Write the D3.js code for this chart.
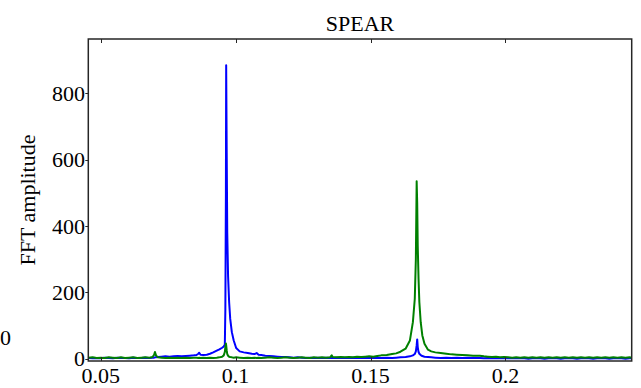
<!DOCTYPE html>
<html><head><meta charset="utf-8">
<script src="https://cdnjs.cloudflare.com/ajax/libs/d3/7.8.5/d3.min.js"></script>
<style>html,body{margin:0;padding:0;background:#fff;}svg{display:block;}</style>
</head><body>
<script>
const titleText = "SPEAR";
const yLabel = "FFT amplitude";
const xTicks = [0.05, 0.1, 0.15, 0.2];
const xTickLabels = ["0.05", "0.1", "0.15", "0.2"];
const yTicks = [0, 200, 400, 600, 800];
const yTickLabels = ["0", "200", "400", "600", "800"];
const xDomain = [0.0454, 0.2468];
const yDomain = [-7, 964];
const freq = [0.0454,0.0470,0.0485,0.0500,0.0515,0.0530,0.0545,0.0560,0.0575,0.0590,0.0605,0.0620,0.0635,0.0650,0.0665,0.0680,0.0692,0.0698,0.0701,0.0705,0.0712,0.0725,0.0740,0.0755,0.0770,0.0785,0.0800,0.0815,0.0830,0.0845,0.0855,0.0862,0.0865,0.0870,0.0880,0.0893,0.0905,0.0917,0.0930,0.0940,0.0950,0.0956,0.0960,0.0962,0.0964,0.0965,0.0967,0.0969,0.0972,0.0976,0.0980,0.0986,0.0993,0.1002,0.1015,0.1030,0.1045,0.1060,0.1070,0.1078,0.1085,0.1095,0.1110,0.1125,0.1140,0.1155,0.1170,0.1185,0.1200,0.1215,0.1230,0.1245,0.1260,0.1275,0.1290,0.1305,0.1320,0.1335,0.1350,0.1356,0.1360,0.1375,0.1390,0.1405,0.1420,0.1435,0.1450,0.1465,0.1480,0.1495,0.1510,0.1525,0.1540,0.1560,0.1580,0.1595,0.1611,0.1630,0.1646,0.1657,0.1664,0.1668,0.1671,0.1673,0.1675,0.1678,0.1681,0.1686,0.1692,0.1700,0.1713,0.1725,0.1740,0.1760,0.1781,0.1800,0.1820,0.1840,0.1860,0.1880,0.1905,0.1920,0.1935,0.1950,0.1965,0.1980,0.1995,0.2010,0.2025,0.2040,0.2055,0.2070,0.2085,0.2100,0.2115,0.2130,0.2145,0.2160,0.2175,0.2190,0.2205,0.2220,0.2235,0.2250,0.2265,0.2280,0.2295,0.2310,0.2325,0.2340,0.2355,0.2370,0.2385,0.2400,0.2415,0.2430,0.2445,0.2460,0.2468];
const blueAmp = [2,1,2,1,3,2,1,3,2,2,1,3,2,2,3,2,3,3,4,4,5,6,7,6,7,8,7,8,9,10,11,15,18,12,11,12,15,19,24,28,33,37,42,150,500,885,620,380,250,170,120,80,55,32,22,19,17,15,14,17,12,11,9,8,7,6,5,5,4,3,4,3,2,3,2,3,2,3,2,3,2,3,2,3,2,3,2,3,2,3,2,3,2,3,2,3,4,5,7,10,14,22,40,58,35,20,15,11,8,6,5,4,3,2,3,2,3,2,3,2,2,1,2,1,2,1,2,1,2,1,2,1,0,1,2,1,0,1,2,1,0,1,2,1,0,1,2,1,0,1,2,1,0,1,2,1,0,1,1];
const greenAmp = [3,4,2,3,2,4,3,2,4,2,3,4,2,3,4,3,5,12,20,10,4,3,2,3,2,3,2,3,2,3,3,2,3,2,3,2,3,2,3,4,6,10,20,35,46,40,25,14,9,6,5,4,3,4,3,2,3,2,3,2,3,2,3,4,3,2,3,4,3,2,3,4,3,2,4,3,4,3,4,10,5,4,5,4,5,4,6,5,6,7,6,8,10,11,14,16,21,30,55,110,180,300,535,470,340,240,170,110,70,45,27,22,19,17,15,13,12,11,10,9,9,7,6,5,6,4,5,4,3,4,3,4,3,4,3,4,3,4,3,4,3,4,3,4,3,4,3,4,3,4,3,4,3,4,3,4,3,4,3];

const W = 641, H = 388;
const L = 88.3, R = 631.7, T = 39, B = 361;
const svg = d3.select("body").append("svg").attr("width", W).attr("height", H);
const x = d3.scaleLinear().domain(xDomain).range([L, R]);
const y = d3.scaleLinear().domain(yDomain).range([B, T]);
const font = "'Liberation Serif','Times New Roman',serif";

svg.append("defs").append("clipPath").attr("id", "clip")
  .append("rect").attr("x", L).attr("y", T).attr("width", R - L).attr("height", B - T);

const line = d3.line().x((d, i) => x(freq[i])).y(d => y(d));
const g = svg.append("g").attr("clip-path", "url(#clip)");
g.append("path").datum(blueAmp).attr("d", line).attr("fill", "none")
  .attr("stroke", "#0000ff").attr("stroke-width", 2).attr("stroke-linejoin", "round");
g.append("path").datum(greenAmp).attr("d", line).attr("fill", "none")
  .attr("stroke", "#008000").attr("stroke-width", 2).attr("stroke-linejoin", "round");

// frame
svg.append("rect").attr("x", L).attr("y", T).attr("width", R - L).attr("height", B - T)
  .attr("fill", "none").attr("stroke", "#262626").attr("stroke-width", 1.5);

// x ticks (inside, top and bottom)
xTicks.forEach((t, i) => {
  const xx = Math.round(x(t)) + 0.5;
  svg.append("line").attr("x1", xx).attr("x2", xx).attr("y1", T).attr("y2", T + 4)
    .attr("stroke", "#262626").attr("stroke-width", 1);
  svg.append("line").attr("x1", xx).attr("x2", xx).attr("y1", B).attr("y2", B - 4)
    .attr("stroke", "#262626").attr("stroke-width", 1);
  svg.append("text").attr("x", x(t)).attr("y", 383).attr("text-anchor", "middle")
    .attr("font-family", font).attr("font-size", 22).attr("fill", "#000").text(xTickLabels[i]);
});

// y ticks (outside)
yTicks.forEach((t, i) => {
  const yy = Math.round(y(t)) + 0.5;
  svg.append("line").attr("x1", L - 3).attr("x2", L).attr("y1", yy).attr("y2", yy)
    .attr("stroke", "#262626").attr("stroke-width", 1);
  svg.append("text").attr("x", 85).attr("y", y(t)).attr("dy", "0.35em").attr("text-anchor", "end")
    .attr("font-family", font).attr("font-size", 22).attr("fill", "#000").text(yTickLabels[i]);
});

// stray label at left
svg.append("text").attr("x", 11).attr("y", 345).attr("text-anchor", "end")
  .attr("font-family", font).attr("font-size", 22).attr("fill", "#000").text("0");

// title
svg.append("text").attr("x", (L + R) / 2).attr("y", 31).attr("text-anchor", "middle")
  .attr("font-family", font).attr("font-size", 22).attr("fill", "#000").text(titleText);

// y label
svg.append("text").attr("transform", `translate(35,${(T + B) / 2}) rotate(-90)`)
  .attr("text-anchor", "middle").attr("font-family", font).attr("font-size", 22)
  .attr("fill", "#000").text(yLabel);
</script>
</body></html>
